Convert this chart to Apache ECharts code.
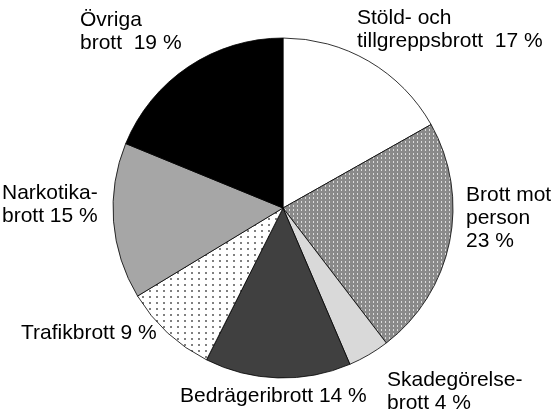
<!DOCTYPE html>
<html>
<head>
    <meta charset="UTF-8"/>
    <script type="text/javascript" src="https://cdn.jsdelivr.net/npm/echarts@6/dist/echarts.min.js"></script>
    <title>brott</title>
    <style>
        html, body { margin: 0; padding: 0; background: #fff; }
        #chart { width: 556px; height: 412px; }
    </style>
</head>
<body>
<div id="chart"></div>
<script>
    // andelar i procent, medurs från kl 12
    var names = ['Stöld- och tillgreppsbrott', 'Brott mot person', 'Skadegörelsebrott', 'Bedrägeribrott', 'Trafikbrott', 'Narkotikabrott', 'Övriga brott'];
    var values = [17, 23, 4, 14, 9, 15, 19];
    var labels = [
        'Stöld- och\ntillgreppsbrott  17 %',
        'Brott mot\nperson\n23 %',
        'Skadegörelse-\nbrott 4 %',
        'Bedrägeribrott 14 %',
        'Trafikbrott 9 %',
        'Narkotika-\nbrott 15 %',
        'Övriga\nbrott  19 %'
    ];

    // var etikett hamnar (vänster/överkant)
    var labelPos = [[357, 7], [466, 184], [387, 369], [180, 385], [21, 322], [2, 182], [80, 9]];

    function makePattern(w, h, bg, dot, dots) {
        var c = document.createElement('canvas');
        c.width = w; c.height = h;
        var ctx = c.getContext('2d');
        ctx.fillStyle = bg;
        ctx.fillRect(0, 0, w, h);
        ctx.fillStyle = dot;
        dots.forEach(function (d) { ctx.fillRect(d[0], d[1], d[2], d[3]); });
        return {image: c, repeat: 'repeat'};
    }

    var fills = [
        '#ffffff',
        makePattern(4, 4, '#8a8a8a', '#dcdcdc', [[1, 1, 1, 2]]),
        '#d9d9d9',
        '#404040',
        makePattern(7, 6, '#ffffff', '#808080', [[2, 2, 2, 2]]),
        '#a6a6a6',
        '#000000'
    ];

    var data = [];
    for (var i = 0; i < values.length; i++) {
        data.push({
            name: names[i],
            value: values[i],
            itemStyle: {color: fills[i]},
            label: {formatter: labels[i]}
        });
    }

    var chart = echarts.init(document.getElementById('chart'));
    chart.setOption({
        animation: false,
        series: [{
            type: 'pie',
            center: [283, 208],
            radius: 170,
            startAngle: 90,
            clockwise: true,
            data: data,
            itemStyle: {borderColor: '#000', borderWidth: 0.8},
            label: {
                show: true,
                position: 'outside',
                overflow: 'none',
                color: '#000',
                fontFamily: 'Liberation Sans, Arial, sans-serif',
                fontSize: 21,
                lineHeight: 23
            },
            labelLine: {show: false},
            labelLayout: function (p) {
                var pos = labelPos[p.dataIndex];
                return {x: pos[0], y: pos[1], align: 'left', verticalAlign: 'top'};
            },
            emphasis: {disabled: true}
        }]
    });
</script>
</body>
</html>
